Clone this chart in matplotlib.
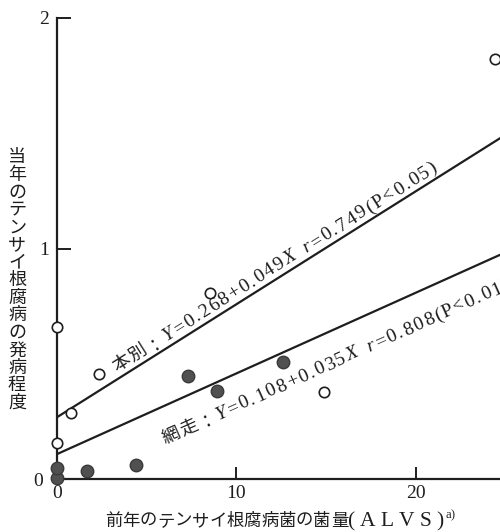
import numpy as np
import matplotlib
matplotlib.use('Agg')
from matplotlib import pyplot as plt
from matplotlib.transforms import IdentityTransform
from matplotlib.font_manager import FontProperties, findfont, get_font

plt.rcParams['font.family'] = ['Liberation Serif', 'Noto Sans CJK JP']

# 本別 (open circles) and 網走 (filled circles)
honbetsu_x = [0, 0.78, 0, 2.34, 8.52, 14.87, 24.4]
honbetsu_y = [0.156, 0.286, 0.66, 0.455, 0.807, 0.377, 1.82]
abashiri_x = [0, 0, 1.67, 4.40, 7.30, 8.91, 12.59]
abashiri_y = [0.004, 0.048, 0.035, 0.061, 0.447, 0.382, 0.508]

# regression lines: Y = a + b X
honbetsu_fit = (0.268, 0.049)
abashiri_fit = (0.108, 0.035)

ylabel = '当年のテンサイ根腐病の発病程度'
xlabel = '前年のテンサイ根腐病菌の菌量'

INK = '#1e1e1e'
W, H = 500, 532
DPI = 100

fig = plt.figure(figsize=(5, 5.32), dpi=DPI)
ax = fig.add_axes([57 / W, 1 - 479 / H, 1 - 57 / W, (479 - 18) / H])
ax.set_xlim(0, 24.7)
ax.set_ylim(0, 2)
for s in ['top', 'right']:
    ax.spines[s].set_visible(False)
for s in ['left', 'bottom']:
    ax.spines[s].set_linewidth(1.6)
    ax.spines[s].set_color(INK)
ax.set_xticks([0, 10, 20])
ax.set_yticks([0, 1, 2])
ax.tick_params(direction='in', length=10, width=1.4, color=INK,
               labelsize=14, labelcolor=INK, pad=6)
ax.tick_params(axis='x', length=9, pad=4)
ax.get_yticklabels()[0].set_x(-0.012)

xs = np.array([0, 24.7])
for a, b in [honbetsu_fit, abashiri_fit]:
    ax.plot(xs, a + b * xs, color=INK, lw=1.6, zorder=2)

ax.plot(abashiri_x, abashiri_y, 'o', ms=9, mfc='#505050', mec='#3a3a3a',
        mew=1.0, clip_on=False, zorder=3)
ax.plot(honbetsu_x, honbetsu_y, 'o', ms=7.5, mfc='white', mec=INK,
        mew=1.2, clip_on=False, zorder=3)

JP = 'Noto Sans CJK JP'
SERIF = 'Liberation Serif'


def advance(ch, kw):
    """Horizontal advance of one glyph, in pixels."""
    fp = FontProperties(family=kw['family'], style=kw.get('style', 'normal'))
    font = get_font(findfont(fp))
    font.set_size(kw['fontsize'], DPI)
    return font.load_char(ord(ch)).linearHoriAdvance / 65536


def run_text(start, ang, pieces, track=0.0):
    """Lay characters one after another from a display-pixel start point."""
    u = np.array([np.cos(ang), np.sin(ang)])
    pos = np.array(start, dtype=float)
    for s, kw in pieces:
        if s is None:
            pos = pos + u * kw
            continue
        for ch in s:
            fig.text(pos[0], pos[1], ch, transform=IdentityTransform(),
                     ha='left', va='baseline', color=INK,
                     rotation=np.degrees(ang), rotation_mode='anchor',
                     fontsize=kw['fontsize'], family=kw['family'],
                     style=kw.get('style', 'normal'))
            pos = pos + u * (advance(ch, kw) + track)
    return pos


def line_label(x0, fit, offset, pieces, track):
    a, b = fit
    p0 = ax.transData.transform((x0, a + b * x0))
    p1 = ax.transData.transform((x0 + 1, a + b * (x0 + 1)))
    ang = np.arctan2(p1[1] - p0[1], p1[0] - p0[0])
    n = np.array([-np.sin(ang), np.cos(ang)])
    run_text(p0 + n * offset, ang, pieces, track)


jp = dict(fontsize=13, family=JP)
rm = dict(fontsize=14, family=SERIF)
it = dict(fontsize=14, family=SERIF, style='italic')

line_label(3.5, honbetsu_fit, 6,
           [('本別：', jp), ('Y', it), ('=0.268+0.049', rm), ('X', it),
            (None, 9), ('r', it), ('=0.749(P<0.05)', rm)], track=1.7)
line_label(5.2, abashiri_fit, -35,
           [('網走：', jp), ('Y', it), ('=0.108+0.035', rm), ('X', it),
            (None, 9), ('r', it), ('=0.808(P<0.01)', rm)], track=1.7)

# vertical axis title, one character per row
ys = np.linspace(157, 403, len(ylabel))
for ch, y in zip(ylabel, ys):
    fig.text(17, H - y, ch, transform=IdentityTransform(), ha='center',
             va='center', fontsize=13, color=INK, family=JP)

# horizontal axis title
end = run_text((105, H - 526), 0.0, [(xlabel, dict(fontsize=12.5, family=JP))])
end = run_text(end, 0.0, [('(ALVS)', dict(fontsize=15.5, family=SERIF))],
               track=5)
run_text((end[0] - 3, H - 518), 0.0, [('a)', dict(fontsize=9, family=SERIF))])

fig.savefig('out.png', dpi=DPI)
